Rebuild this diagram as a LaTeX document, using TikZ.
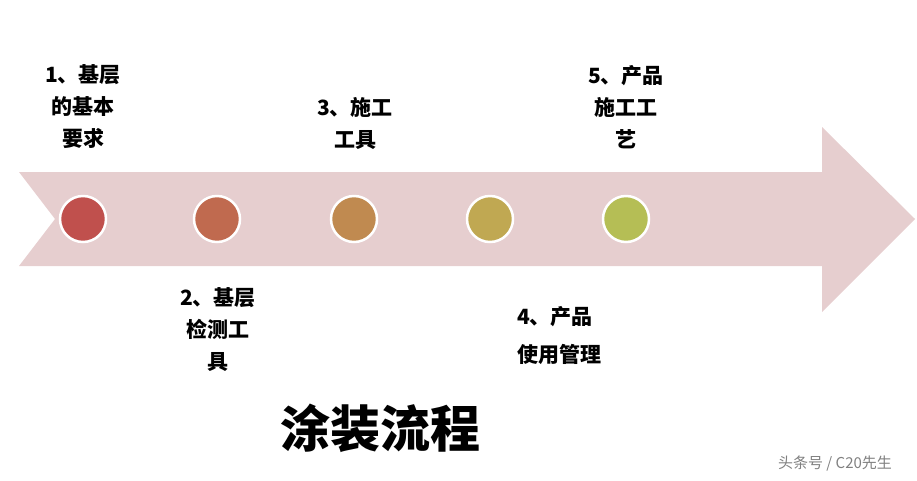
\documentclass[tikz,border=0pt]{standalone}
\usepackage{fontspec}
\setmainfont{Noto Sans CJK SC}
\newfontfamily\cjk{Noto Sans CJK SC}
\definecolor{arrowfill}{HTML}{E6CECF}
\definecolor{cA}{HTML}{C0504D}
\definecolor{cB}{HTML}{C06A4F}
\definecolor{cC}{HTML}{C08A50}
\definecolor{cD}{HTML}{C0A852}
\definecolor{cE}{HTML}{B5BE55}
\begin{document}
\begin{tikzpicture}[x=1pt,y=-1pt,
  dot/.style={circle,draw=white,line width=2.5pt,minimum size=46pt,inner sep=0pt},
  lab/.style={font=\cjk\bfseries\fontsize{21}{32}\selectfont,align=center,inner sep=0pt,text=black}]
\useasboundingbox (0,0) rectangle (917,480);
\fill[arrowfill] (19,172) -- (822,172) -- (822,127) -- (915,219) -- (822,312) -- (822,266) -- (19,266) -- (55,219) -- cycle;
\node[dot,fill=cA] (d1) at (83,219) {};
\node[dot,fill=cB] (d2) at (217,219) {};
\node[dot,fill=cC] (d3) at (354,219) {};
\node[dot,fill=cD] (d4) at (490,219) {};
\node[dot,fill=cE] (d5) at (626,219) {};
\node[lab] (l1) at (83,107) {1、基层\\的基本\\要求};
\node[lab] (l3) at (355,123) {3、施工\\工具};
\node[lab] (l5) at (626,107) {5、产品\\施工工\\艺};
\node[lab] (l2) at (218,330) {2、基层\\检测工\\具};
\node[lab,align=left,anchor=west,font=\cjk\bfseries\fontsize{21}{38}\selectfont] (l4) at (517,336) {4、产品\\使用管理};
\node[font=\cjk\bfseries\fontsize{50}{50}\selectfont,inner sep=0pt] (t) at (380,428) {涂装流程};
\node[font=\cjk\fontsize{15}{15}\selectfont,text=gray,inner sep=0pt] (w) at (835,464) {头条号 / C20先生};
\end{tikzpicture}
\end{document}
